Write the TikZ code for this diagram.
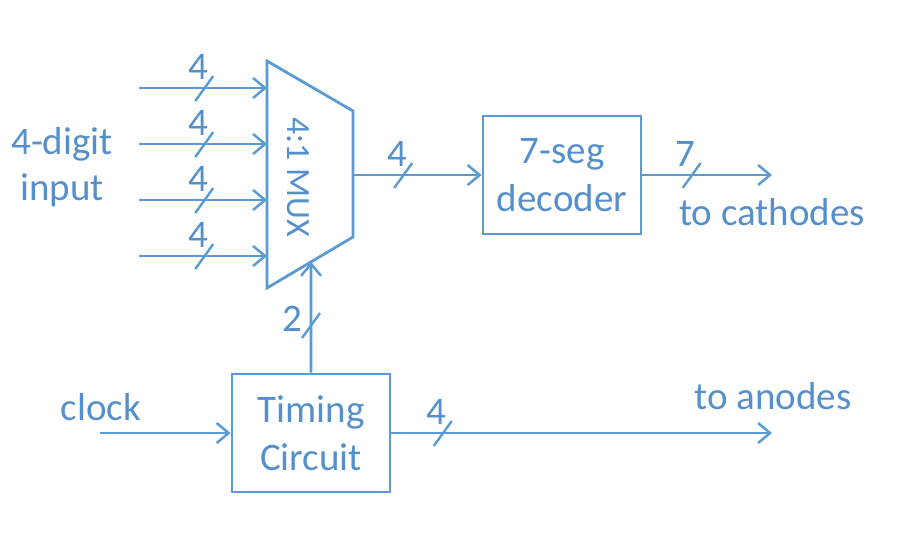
\documentclass[tikz,border=0pt]{standalone}
\usepackage{fontspec}
\setmainfont{Carlito}
\usetikzlibrary{arrows.meta,calc}
\definecolor{ln}{HTML}{5B9BD5}
\definecolor{tx}{HTML}{5590CC}
\begin{document}
\begin{tikzpicture}[x=1pt,y=-1pt,
  wire/.style={draw=ln,line width=2.8pt},
  arr/.style={wire,-{Straight Barb[length=12pt,width=20pt,line width=2.5pt]}},
  blk/.style={draw=ln,line width=2.8pt,minimum width=158pt,minimum height=118pt,inner sep=0pt,
     text=tx,font=\fontsize{39}{48}\selectfont,align=center},
  lbl/.style={text=tx,font=\fontsize{39}{46}\selectfont,inner sep=0pt,align=center},
  slashmark/.style={draw=ln,line width=2.4pt,-},
  hbus/.pic={\draw[slashmark] (-9,13)--(9,-12);
             \node[lbl] (-lab) at (-6,-21) {#1};},
  vbus/.pic={\draw[slashmark] (-9,13)--(9,-12);
             \node[lbl] (-lab) at (-19,-6) {#1};}]
\useasboundingbox (0,0) rectangle (916,538);
% MUX
\coordinate (mux-tl) at (267,61);
\coordinate (mux-tr) at (353,111);
\coordinate (mux-br) at (353,237);
\coordinate (mux-bl) at (267,288);
\draw[wire,line join=miter] (mux-tl)--(mux-tr)--(mux-br)--(mux-bl)--cycle;
\node[lbl,rotate=-90,font=\fontsize{34}{40}\selectfont] (muxlab) at (298,177) {4:1 MUX};
\coordinate (m1) at (267,88);
\coordinate (m2) at (267,144);
\coordinate (m3) at (267,200);
\coordinate (m4) at (267,256);
\coordinate (i1) at (139,88);
\coordinate (i2) at (139,144);
\coordinate (i3) at (139,200);
\coordinate (i4) at (139,256);
\coordinate (mout) at (353,175);
% blocks
\node[blk] (dec) at (562,175) {7-seg\\decoder};
\node[blk] (tim) at (311,433) {Timing\\Circuit};
\coordinate (cath) at (772,175);
\coordinate (anod) at (772,433);
\coordinate (clk) at (100,433);
% connectors
\draw[arr] (i1) -- pic[pos=.51]{hbus=4} (m1);
\draw[arr] (i2) -- pic[pos=.51]{hbus=4} (m2);
\draw[arr] (i3) -- pic[pos=.51]{hbus=4} (m3);
\draw[arr] (i4) -- pic[pos=.51]{hbus=4} (m4);
\draw[arr] (mout) -- pic[pos=.39]{hbus=4} (dec.west);
\draw[arr] (dec.east) -- pic[pos=.38]{hbus=7} (cath);
\draw[arr] (clk) -- (tim.west);
\draw[arr] (tim.east) -- pic[pos=.135]{hbus=4} (anod);
\draw[arr] (tim.north) -- pic[pos=.43]{vbus=2}
  (intersection of tim.north--tim.center and mux-bl--mux-br);
% texts
\node[lbl] (inlab) at (62,167) {4-digit\\input};
\node[lbl] (clklab) at (101,407) {clock};
\node[lbl] (cathlab) at (772,212) {to cathodes};
\node[lbl] (anodlab) at (773,396) {to anodes};
\end{tikzpicture}
\end{document}
